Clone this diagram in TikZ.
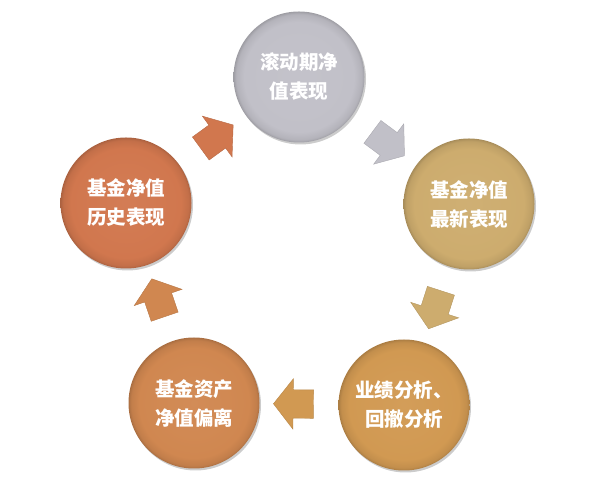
\documentclass[tikz,border=0pt]{standalone}
\usepackage{fontspec}
\newfontfamily\cjk{Noto Sans CJK SC}
\usetikzlibrary{shapes.arrows,shadows}
\definecolor{cT}{RGB}{193,192,200}
\definecolor{cR}{RGB}{205,172,110}
\definecolor{cBR}{RGB}{209,153,82}
\definecolor{cBL}{RGB}{208,135,80}
\definecolor{cL}{RGB}{209,119,78}
\newcommand\mkballshade[2]{%
  \pgfdeclareradialshading{sh#1}{\pgfpoint{0bp}{0bp}}{%
    color(0bp)=(#2!96!white); color(21bp)=(#2); color(24bp)=(#2!93!black);
    color(25bp)=(#2!82!black); color(50bp)=(#2!82!black)}}
\mkballshade{T}{cT}
\mkballshade{R}{cR}
\mkballshade{BR}{cBR}
\mkballshade{BL}{cBL}
\mkballshade{L}{cL}
\begin{document}
\begin{tikzpicture}[x=1pt,y=1pt,
  ball/.style={circle, minimum size=131pt, inner sep=0pt, text=white,
    font=\cjk\bfseries\fontsize{19.5}{29}\selectfont, align=center,
    drop shadow={shadow xshift=1.5pt, shadow yshift=-2pt, fill=black, opacity=0.2},
    shade, shading=#1},
  barrow/.style={single arrow, minimum height=40pt, inner xsep=0pt, inner ysep=14pt,
    single arrow head extend=11pt, single arrow tip angle=104,
    sloped, allow upside down, fill=#1, draw=#1!88!black, line width=0.4pt}]
\useasboundingbox (0,0) rectangle (596,497);
\node[ball=shT]  (T)  at (299,420) {滚动期净\\值表现};
\node[ball=shR]  (R)  at (469,293) {基金净值\\最新表现};
\node[ball=shBR] (BR) at (404,92)  {业绩分析、\\回撤分析};
\node[ball=shBL] (BL) at (194,94)  {基金资产\\净值偏离};
\node[ball=shL]  (L)  at (126,294) {基金净值\\历史表现};
\path (T)  -- node[barrow=cT]  (a1) {} (R);
\path (R)  -- node[barrow=cR]  (a2) {} (BR);
\path (BR) -- node[barrow=cBR] (a3) {} (BL);
\path (BL) -- node[barrow=cBL] (a4) {} (L);
\path (L)  -- node[barrow=cL]  (a5) {} (T);
\end{tikzpicture}
\end{document}
